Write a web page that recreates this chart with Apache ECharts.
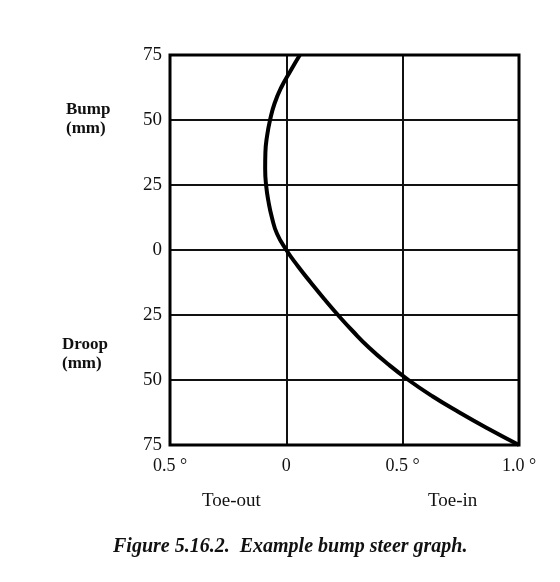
<!DOCTYPE html>
<html>
<head>
<meta charset="utf-8">
<script src="https://cdn.jsdelivr.net/npm/echarts@6/dist/echarts.min.js"></script>
<style>
  html, body { margin: 0; padding: 0; background: #fff; }
  #chart { width: 560px; height: 582px; }
</style>
</head>
<body>
<div id="chart"></div>
<script>
// toe angle (deg, + = toe-in) against wheel travel (mm, + = bump)
const travel = [75, 68.75, 62.5, 56.25, 50, 43.75, 37.5, 31.25, 25, 18.75, 12.5, 6.25, 0,
  -6.25, -12.5, -18.75, -25, -31.25, -37.5, -43.75, -50, -56.25, -62.5, -68.75, -75]
const toeAngle = [0.058, 0.017, -0.022, -0.051, -0.07, -0.083, -0.09, -0.091, -0.087, -0.077, -0.062, -0.04, 0.0,
  0.05, 0.105, 0.162, 0.222, 0.286, 0.355, 0.435, 0.525, 0.628, 0.744, 0.868, 1.0]
const xTickLabels = { '-0.5': '0.5 °', '0': '0', '0.5': '0.5 °', '1': '1.0 °' }

const serif = '"Liberation Serif", "DejaVu Serif", serif'
const chart = echarts.init(document.getElementById('chart'))

chart.setOption({
  backgroundColor: '#fff',
  animation: false,
  grid: { left: 170, top: 55, width: 349, height: 390 },
  xAxis: {
    type: 'value',
    min: -0.5,
    max: 1.0,
    interval: 0.5,
    axisLine: { show: false },
    axisTick: { show: false },
    splitLine: { lineStyle: { color: '#111', width: 2 } },
    axisLabel: {
      color: '#111',
      fontFamily: serif,
      fontSize: 18,
      margin: 12,
      formatter: v => xTickLabels[String(v)]
    }
  },
  yAxis: {
    type: 'value',
    min: -75,
    max: 75,
    interval: 25,
    axisLine: { show: false },
    axisTick: { show: false },
    splitLine: { lineStyle: { color: '#111', width: 2 } },
    axisLabel: {
      color: '#111',
      fontFamily: serif,
      fontSize: 19,
      margin: 8,
      formatter: v => String(Math.abs(v))
    }
  },
  series: [{
    type: 'line',
    smooth: 0.5,
    symbol: 'none',
    lineStyle: { color: '#000', width: 4 },
    data: travel.map((t, i) => [toeAngle[i], t])
  }],
  graphic: [
    {
      type: 'rect',
      shape: { x: 170, y: 55, width: 349, height: 390 },
      style: { fill: 'none', stroke: '#000', lineWidth: 3 },
      z: 10
    },
    { type: 'text', left: 66, top: 101, style: { text: 'Bump', font: 'bold 17px ' + serif, fill: '#111' } },
    { type: 'text', left: 66, top: 120, style: { text: '(mm)', font: 'bold 17px ' + serif, fill: '#111' } },
    { type: 'text', left: 62, top: 336, style: { text: 'Droop', font: 'bold 17px ' + serif, fill: '#111' } },
    { type: 'text', left: 62, top: 355, style: { text: '(mm)', font: 'bold 17px ' + serif, fill: '#111' } },
    { type: 'text', left: 202, top: 492, style: { text: 'Toe-out', font: '19px ' + serif, fill: '#111' } },
    { type: 'text', left: 428, top: 492, style: { text: 'Toe-in', font: '19px ' + serif, fill: '#111' } },
    { type: 'text', left: 113, top: 537, style: { text: 'Figure 5.16.2.  Example bump steer graph.', font: 'italic bold 20px ' + serif, fill: '#111' } }
  ]
})
</script>
</body>
</html>
